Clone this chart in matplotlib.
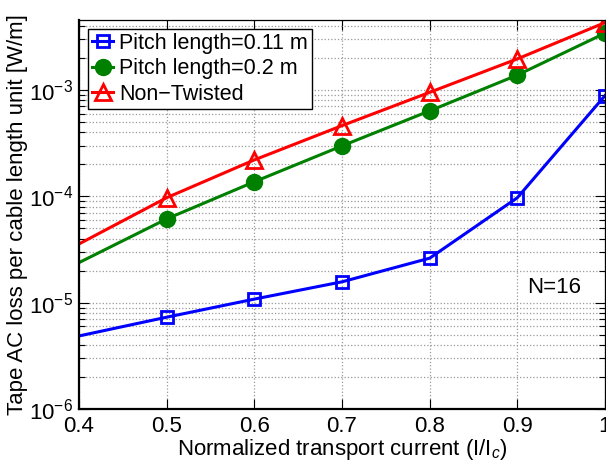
import numpy as np
import matplotlib.pyplot as plt
from matplotlib.ticker import LogLocator, FixedLocator, NullFormatter

plt.rcParams['font.family'] = ['Liberation Sans', 'DejaVu Sans']
plt.rcParams['mathtext.fontset'] = 'custom'
plt.rcParams['mathtext.rm'] = 'Liberation Sans'
plt.rcParams['mathtext.it'] = 'Liberation Sans:italic'

# Normalized transport current (first point lies left of the visible range)
current = [0.3, 0.5, 0.6, 0.7, 0.8, 0.9, 1.0]

# Tape AC loss per cable length unit [W/m]
loss_pitch_011 = [3.24e-6, 7.3e-6, 1.08e-5, 1.57e-5, 2.62e-5, 9.7e-5, 8.85e-4]
loss_pitch_02 = [9.24e-6, 6.13e-5, 1.37e-4, 2.98e-4, 6.36e-4, 1.38e-3, 3.42e-3]
loss_non_twisted = [1.31e-5, 9.7e-5, 2.2e-4, 4.62e-4, 9.5e-4, 1.96e-3, 4.3e-3]

labels = ['Pitch length=0.11 m', 'Pitch length=0.2 m', 'Non\u2212Twisted']
xticks = [0.4, 0.5, 0.6, 0.7, 0.8, 0.9, 1.0]
xticklabels = ['0.4', '0.5', '0.6', '0.7', '0.8', '0.9', '1']

fig = plt.figure(figsize=(6.06, 4.61), dpi=100)
ax = fig.add_axes([79 / 606, 1 - 409 / 461, 526 / 606, 389 / 461])

ax.semilogy(current, loss_pitch_011, '-s', color='blue', lw=2.2, ms=9,
            mfc='none', mew=2, label=labels[0])
ax.semilogy(current, loss_pitch_02, '-o', color=(0, 0.5, 0), lw=2.2, ms=11,
            mfc=(0, 0.5, 0), mew=1.5, label=labels[1])
ax.semilogy(current, loss_non_twisted, '-^', color='red', lw=2.2, ms=11,
            mfc='none', mew=2, label=labels[2])

ax.set_xlim(0.4, 1.0)
ax.set_ylim(1e-6, 4.55e-3)
ax.xaxis.set_major_locator(FixedLocator(xticks))
ax.set_xticklabels(xticklabels)
ax.yaxis.set_major_locator(LogLocator(base=10, numticks=10))
ax.yaxis.set_minor_locator(LogLocator(base=10, subs=np.arange(2, 10), numticks=10))
ax.yaxis.set_minor_formatter(NullFormatter())

ax.tick_params(which='both', direction='in', top=True, right=True, labelsize=16)
ax.tick_params(which='major', length=7, width=0.8)
ax.tick_params(which='minor', length=4, width=0.8)
ax.tick_params(axis='x', pad=5)
ax.tick_params(axis='y', pad=4)

ax.grid(True, which='major', linestyle=':', color='0.6', linewidth=0.9)
ax.grid(True, which='minor', axis='y', linestyle=':', color='0.6', linewidth=0.9)

for side in ['left', 'bottom']:
    ax.spines[side].set_linewidth(1.6)
for side in ['top', 'right']:
    ax.spines[side].set_linewidth(0.9)

ax.set_xlabel('Normalized transport current (I/I$_c$)', fontsize=16, labelpad=0)
ax.set_ylabel('Tape AC loss per cable length unit [W/m]', fontsize=16, labelpad=1)

ax.text(0.911, 1.4e-5, 'N=16', fontsize=16, va='center', ha='left')

leg = ax.legend(loc='upper left', fontsize=15.5, fancybox=False, framealpha=1,
                edgecolor='black', borderpad=0.2, labelspacing=0.2,
                handlelength=1.0, handletextpad=0.25, borderaxespad=0.4,
                bbox_to_anchor=(0.0, 1.0))
leg.get_frame().set_linewidth(1.0)

fig.savefig('out.png', dpi=100)
